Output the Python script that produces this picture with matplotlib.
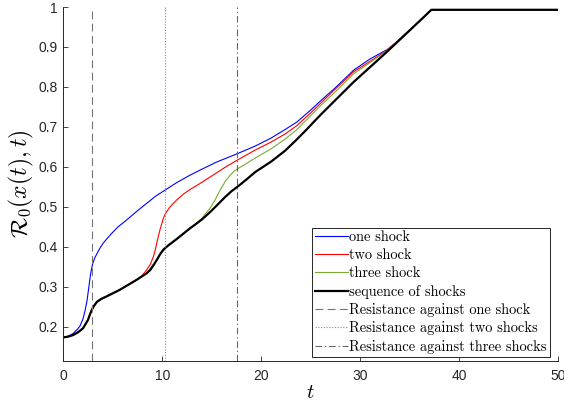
import matplotlib
matplotlib.use("Agg")
import matplotlib.pyplot as plt

plt.rcParams["font.family"] = ["Liberation Sans", "DejaVu Sans"]
plt.rcParams["mathtext.fontset"] = "cm"

# sequence of shocks (black)
t_seq = [0, 0.5, 1, 1.5, 2, 2.5, 2.7, 2.9, 3.1, 3.4, 3.8, 4.4, 5.7, 7.4, 8.4,
         8.8, 9.1, 9.45, 9.8, 10.1, 10.3, 10.7, 11.5, 12.8, 13.3, 14, 14.85,
         15.5, 16.3, 17, 17.6, 18.5, 19.4, 21, 22.4, 23.5, 24.5, 25.3, 26, 27.5,
         29.35, 32.7, 36.1, 37.2, 50]
r_seq = [0.173, 0.175, 0.179, 0.186, 0.196, 0.217, 0.231, 0.243, 0.252, 0.262,
         0.269, 0.276, 0.292, 0.317, 0.333, 0.342, 0.353, 0.367, 0.382, 0.392,
         0.397, 0.405, 0.420, 0.446, 0.455, 0.468, 0.487, 0.503, 0.523, 0.539,
         0.550, 0.568, 0.587, 0.613, 0.640, 0.666, 0.691, 0.712, 0.730, 0.767,
         0.8125, 0.8875, 0.967, 0.993, 0.993]

# one shock (blue)
t_one = [0, 0.5, 1, 1.2, 1.45, 1.7, 2.0, 2.2, 2.4, 2.6, 2.75, 2.9, 3.0, 3.2,
         3.6, 4.0, 4.8, 5.5, 6.4, 7.4, 8.4, 9.3, 10.3, 11.5, 12.8, 14, 15.5,
         17.6, 19.4, 21, 22.4, 23.6, 25, 26, 27.5, 29.35, 31, 32.7, 34, 36.1,
         37.2, 50]
r_one = [0.173, 0.176, 0.183, 0.188, 0.194, 0.202, 0.220, 0.240, 0.265, 0.302,
         0.330, 0.350, 0.360, 0.373, 0.392, 0.408, 0.431, 0.449, 0.467, 0.488,
         0.508, 0.526, 0.542, 0.561, 0.579, 0.594, 0.612, 0.633, 0.652, 0.672,
         0.693, 0.712, 0.742, 0.765, 0.798, 0.842, 0.870, 0.893, 0.918, 0.967,
         0.993, 0.993]

# two shock (red), follows the black curve until t = 7.4
t_two = [0, 1, 2, 2.5, 2.9, 3.4, 4.4, 5.7, 7.4, 7.9, 8.4, 8.8, 9.1, 9.3, 9.5,
         9.8, 10.1, 10.3, 10.7, 11.1, 11.5, 12.2, 12.8, 13.8, 15, 16.3, 17.6,
         19.4, 21, 22.4, 23.6, 25, 26, 27.5, 29.35, 32.7, 36.1, 37.2, 50]
r_two = [0.173, 0.179, 0.196, 0.217, 0.243, 0.262, 0.276, 0.292, 0.317, 0.326,
         0.341, 0.356, 0.375, 0.392, 0.415, 0.445, 0.470, 0.482, 0.497, 0.508,
         0.518, 0.533, 0.543, 0.558, 0.577, 0.598, 0.617, 0.642, 0.662, 0.682,
         0.703, 0.735, 0.759, 0.795, 0.838, 0.891, 0.967, 0.993, 0.993]

# three shock (green), follows the black curve until t = 13.3
t_three = [0, 1, 2, 2.5, 2.9, 3.4, 4.4, 5.7, 7.4, 8.4, 9.45, 10.1, 11.5, 12.8,
           13.3, 14, 14.85, 15.4, 15.86, 16.4, 16.87, 17.3, 17.6, 18.3, 19.4,
           21, 22.4, 23.6, 25, 26, 27.5, 29.35, 32.7, 36.1, 37.2, 50]
r_three = [0.173, 0.179, 0.196, 0.217, 0.243, 0.262, 0.276, 0.292, 0.317, 0.333,
           0.367, 0.392, 0.420, 0.446, 0.455, 0.471, 0.497, 0.520, 0.542, 0.565,
           0.579, 0.590, 0.595, 0.605, 0.622, 0.645, 0.669, 0.693, 0.728, 0.753,
           0.788, 0.833, 0.890, 0.967, 0.993, 0.993]

# resistance thresholds (vertical lines)
t_resist = [2.9, 10.26, 17.6]
resist_labels = ["Resistance against one shock", "Resistance against two shocks",
                 "Resistance against three shocks"]

AX = "#262626"

fig = plt.figure(figsize=(5.64, 4.07), dpi=100)
ax = fig.add_axes([0.1122, 0.113, 0.8772, 0.8698])

ax.plot(t_one, r_one, color="#0000FF", lw=0.8, label="one shock")
ax.plot(t_two, r_two, color="#FF0000", lw=0.8, label="two shock")
ax.plot(t_three, r_three, color="#77AC30", lw=0.8, label="three shock")
ax.plot(t_seq, r_seq, color="black", lw=1.6, label="sequence of shocks")

ax.axvline(t_resist[0], color="0.45", lw=0.8, ls=(0, (7, 4)), label=resist_labels[0])
ax.axvline(t_resist[1], color="0.55", lw=0.8, ls=(0, (1, 1.5)), label=resist_labels[1])
ax.axvline(t_resist[2], color="0.4", lw=0.8, ls=(0, (6, 2.5, 1.2, 2.5)), label=resist_labels[2])

ax.set_xlim(0, 50)
ax.set_ylim(0.114, 1.0)
ax.set_xticks([0, 10, 20, 30, 40, 50])
ax.set_yticks([0.2, 0.3, 0.4, 0.5, 0.6, 0.7, 0.8, 0.9, 1.0])
ax.set_yticklabels(["0.2", "0.3", "0.4", "0.5", "0.6", "0.7", "0.8", "0.9", "1"])
ax.tick_params(direction="in", length=3.5, width=0.6, colors=AX, labelsize=10)
ax.tick_params(axis="x", pad=6)
ax.tick_params(axis="y", pad=4)
for s in ("top", "right"):
    ax.spines[s].set_visible(False)
for s in ("left", "bottom"):
    ax.spines[s].set_color(AX)
    ax.spines[s].set_linewidth(0.7)

ax.set_xlabel(r"$t$", fontsize=15, labelpad=0)
ax.set_ylabel(r"$\mathcal{R}_0(x(t),t)$", fontsize=17, labelpad=2)

leg = ax.legend(loc="lower right", bbox_to_anchor=(0.992, 0.0),
                prop={"family": "cmr10", "size": 10.4},
                fancybox=False, framealpha=1, edgecolor=AX, handlelength=2.3,
                handletextpad=0.1, labelspacing=0.3, borderpad=0.2,
                borderaxespad=0.3)
leg.get_frame().set_linewidth(0.7)

fig.savefig("out.png", dpi=100)
